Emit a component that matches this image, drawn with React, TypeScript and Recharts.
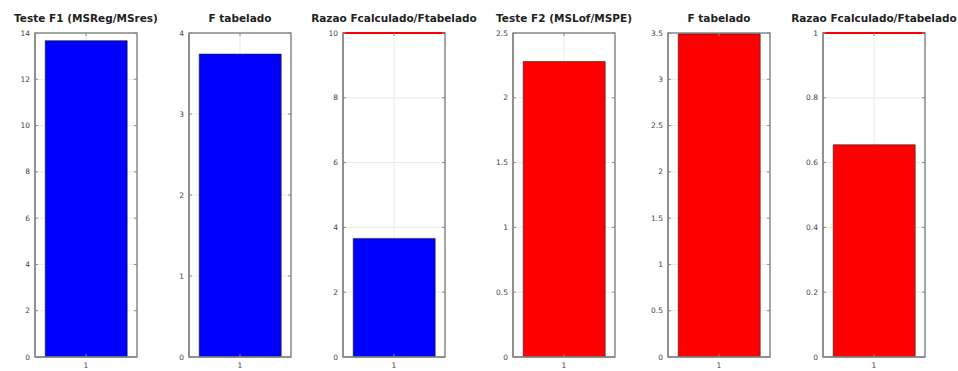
import { BarChart, Bar, XAxis, YAxis, CartesianGrid, ReferenceLine, ReferenceArea } from 'recharts';

const titles = [
  'Teste F1 (MSReg/MSres)',
  'F tabelado',
  'Razao Fcalculado/Ftabelado',
  'Teste F2 (MSLof/MSPE)',
  'F tabelado',
  'Razao Fcalculado/Ftabelado',
];
const categories = ['1'];
const barValues = [13.67, 3.74, 3.66, 2.28, 3.49, 0.655];
const yMax = [14, 4, 10, 2.5, 3.5, 1];
const yTicks = [
  [0, 2, 4, 6, 8, 10, 12, 14],
  [0, 1, 2, 3, 4],
  [0, 2, 4, 6, 8, 10],
  [0, 0.5, 1, 1.5, 2, 2.5],
  [0, 0.5, 1, 1.5, 2, 2.5, 3, 3.5],
  [0, 0.2, 0.4, 0.6, 0.8, 1],
];
const thresholds: (number | null)[] = [null, null, 10, null, null, 1];
const barColors = ['#0000ff', '#0000ff', '#0000ff', '#ff0000', '#ff0000', '#ff0000'];

const panelLefts = [0, 154, 308, 478, 633, 788];
const W = 150;
const H = 371;
const M = { top: 33, right: 13, bottom: 0, left: 0 };
const YW = 35;
const XH = 14;
const plotL = YW;
const plotR = W - M.right;
const plotT = M.top;
const plotB = H - XH;
const axisColor = '#8a8a8a';
const font = '"DejaVu Sans", sans-serif';

function YTick(props: any) {
  const { y, payload } = props;
  return (
    <g>
      <line x1={plotL} x2={plotL + 3} y1={y} y2={y} stroke={axisColor} />
      <line x1={plotR - 3} x2={plotR} y1={y} y2={y} stroke={axisColor} />
      <text x={plotL - 5} y={y} dy={2.5} textAnchor="end" fontSize={7.5} fill="#444" fontFamily={font}>
        {payload.value}
      </text>
    </g>
  );
}

function XTick(props: any) {
  const { x, payload } = props;
  return (
    <g>
      <line x1={x} x2={x} y1={plotB} y2={plotB - 3} stroke={axisColor} />
      <line x1={x} x2={x} y1={plotT} y2={plotT + 3} stroke={axisColor} />
      <text x={x} y={plotB + 11} textAnchor="middle" fontSize={7.5} fill="#444" fontFamily={font}>
        {payload.value}
      </text>
    </g>
  );
}

function Panel({ i }: { i: number }) {
  const data = categories.map((c) => ({ name: c, value: barValues[i] }));
  return (
    <div style={{ position: 'absolute', left: panelLefts[i], top: 0, width: W, height: H }}>
      <div
        style={{
          position: 'absolute',
          left: plotL - 40,
          width: plotR - plotL + 80,
          top: 12,
          textAlign: 'center',
          fontFamily: font,
          fontWeight: 'bold',
          fontSize: 10.5,
          color: '#222',
          whiteSpace: 'nowrap',
        }}
      >
        {titles[i]}
      </div>
      <BarChart width={W} height={H} data={data} margin={M} barCategoryGap="10%">
        <CartesianGrid stroke="#e4e4e4" strokeWidth={0.8} />
        <XAxis
          dataKey="name"
          height={XH}
          axisLine={{ stroke: axisColor, strokeWidth: 1.5 }}
          tickLine={false}
          tick={<XTick />}
          interval={0}
        />
        <YAxis
          width={YW}
          domain={[0, yMax[i]]}
          ticks={yTicks[i]}
          allowDataOverflow
          axisLine={{ stroke: axisColor, strokeWidth: 1.5 }}
          tickLine={false}
          tick={<YTick />}
        />
        <Bar dataKey="value" fill={barColors[i]} stroke="#222" strokeWidth={0.6} isAnimationActive={false} />
        <ReferenceArea
          y1={0}
          y2={yMax[i]}
          fill="none"
          fillOpacity={0}
          stroke={axisColor}
          strokeWidth={1.5}
          ifOverflow="visible"
        />
        {thresholds[i] !== null && (
          <ReferenceLine y={thresholds[i] as number} stroke="#ff0000" strokeWidth={2} />
        )}
      </BarChart>
    </div>
  );
}

export default function App() {
  return (
    <div style={{ position: 'absolute', left: 0, top: 0, width: 958, height: 371, background: '#fff' }}>
      {titles.map((_, i) => (
        <Panel key={i} i={i} />
      ))}
    </div>
  );
}
